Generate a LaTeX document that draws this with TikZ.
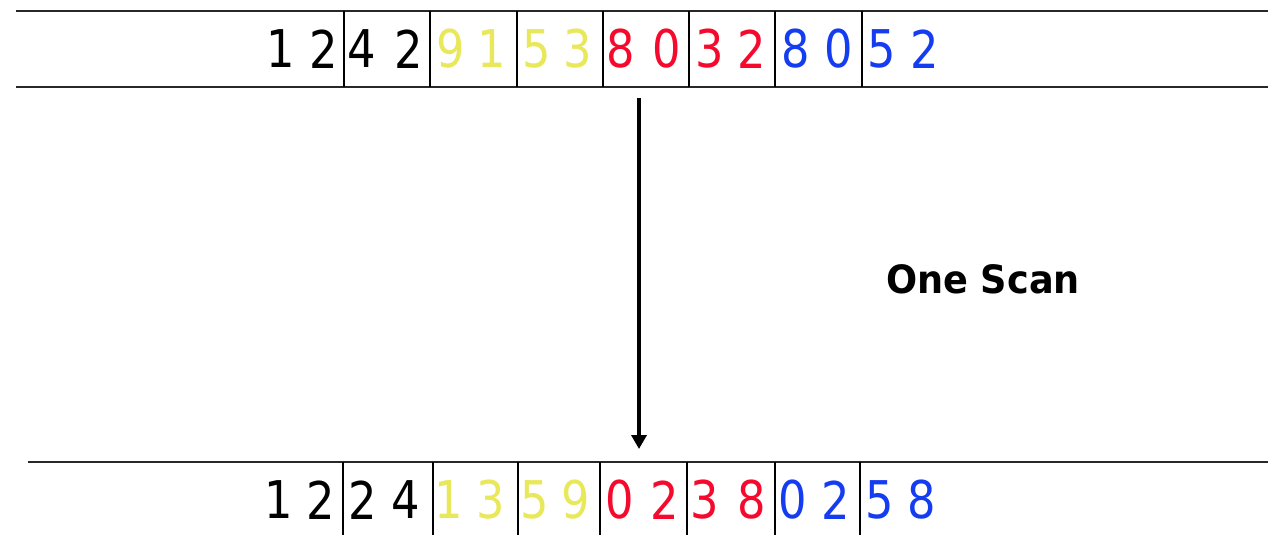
\documentclass[tikz,border=0pt]{standalone}
\usepackage{fontspec}
\newfontfamily\digfont[FakeStretch=0.86]{DejaVu Sans}
\newfontfamily\lblfont[FakeStretch=0.94]{DejaVu Sans Bold}
\usetikzlibrary{arrows.meta}
\definecolor{cyel}{RGB}{232,232,90}
\definecolor{cred}{RGB}{245,10,45}
\definecolor{cblu}{RGB}{20,60,240}
\definecolor{cline}{RGB}{40,40,40}
\begin{document}
\begin{tikzpicture}[x=1pt,y=-1pt,
  rule/.style={draw=cline,line width=2.6pt},
  sep/.style={draw=black,line width=1.8pt},
  dig/.style={inner sep=0pt,outer sep=0pt,anchor=center,font=\digfont\fontsize{52}{52}\selectfont},
  lbl/.style={inner sep=0pt,anchor=base,font=\lblfont\fontsize{39}{39}\selectfont},
  arr/.style={draw=black,line width=3.6pt,-{Triangle[length=14pt,width=15pt]}}]
\useasboundingbox (0,0) rectangle (1268,535);
\fill[white] (0,0) rectangle (1268,535);
% frame lines
\coordinate (tl1) at (16,11); \coordinate (tr1) at (1268,11);
\coordinate (tl2) at (16,87); \coordinate (tr2) at (1268,87);
\coordinate (bl) at (28,462); \coordinate (br) at (1268,462);
\draw[rule] (tl1) -- (tr1);
\draw[rule] (tl2) -- (tr2);
\draw[rule] (bl) -- (br);
% top separators
\foreach \x [count=\i] in {344,430,517,603,689,775,862}{
  \coordinate (ts\i a) at (\x,11); \coordinate (ts\i b) at (\x,87);
  \draw[sep] (ts\i a) -- (ts\i b);
}
% bottom separators
\foreach \x [count=\i] in {343,433,518,600,687,775,860}{
  \coordinate (bs\i a) at (\x,462); \coordinate (bs\i b) at (\x,535);
  \draw[sep] (bs\i a) -- (bs\i b);
}
% top digits
\foreach \x/\d/\c [count=\i] in {281/1/black,324/2/black,362/4/black,409/2/black,
  451/9/cyel,492/1/cyel,537/5/cyel,578/3/cyel,
  621/8/cred,667/0/cred,710/3/cred,752/2/cred,
  796/8/cblu,839/0/cblu,882/5/cblu,925/2/cblu}{
  \node[dig,text=\c] (t\i) at (\x,49) {\d};
}
% bottom digits
\foreach \x/\d/\c [count=\i] in {279/1/black,321/2/black,363/2/black,406/4/black,
  449/1/cyel,491/3/cyel,535/5/cyel,576/9/cyel,
  620/0/cred,665/2/cred,705/3/cred,752/8/cred,
  793/0/cblu,836/2/cblu,880/5/cblu,922/8/cblu}{
  \node[dig,text=\c] (b\i) at (\x,500) {\d};
}
% arrow
\coordinate (as) at (639,98);
\coordinate (ae) at (639,449);
\draw[arr] (as) -- (ae);
\node[lbl] (scan) at (983,293) {One Scan};
\end{tikzpicture}
\end{document}
